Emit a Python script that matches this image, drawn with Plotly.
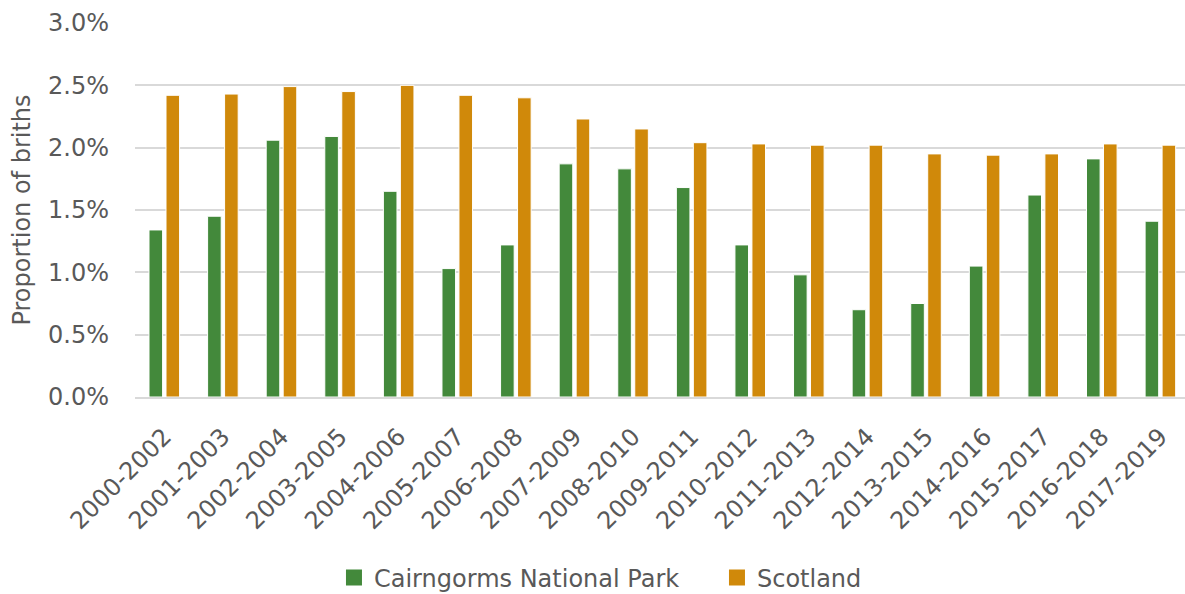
import plotly.graph_objects as go

periods = ["2000-2002", "2001-2003", "2002-2004", "2003-2005", "2004-2006", "2005-2007",
           "2006-2008", "2007-2009", "2008-2010", "2009-2011", "2010-2012", "2011-2013",
           "2012-2014", "2013-2015", "2014-2016", "2015-2017", "2016-2018", "2017-2019"]
cairngorms = [1.34, 1.45, 2.06, 2.09, 1.65, 1.03, 1.22, 1.87, 1.83, 1.68, 1.22, 0.98,
              0.70, 0.75, 1.05, 1.62, 1.91, 1.41]
scotland = [2.42, 2.43, 2.49, 2.45, 2.50, 2.42, 2.40, 2.23, 2.15, 2.04, 2.03, 2.02,
            2.02, 1.95, 1.94, 1.95, 2.03, 2.02]

series_names = ["Cairngorms National Park", "Scotland"]
colors = ["#43893B", "#D0890A"]

cn = [v / 100 for v in cairngorms]
sc = [v / 100 for v in scotland]

fig = go.Figure()
for name, vals, col in zip(series_names, [cn, sc], colors):
    fig.add_trace(go.Bar(x=periods, y=vals, name=name, showlegend=False,
                         marker=dict(color=col, line=dict(color="white", width=1))))
# legend entries with larger square swatches
for name, col in zip(series_names, colors):
    fig.add_trace(go.Scatter(x=[None], y=[None], mode="markers", name=name,
                             marker=dict(symbol="square", size=16, color=col)))

font_color = "#595959"
fam = "DejaVu Sans, Noto Sans, sans-serif"
fs = 24
fig.update_layout(
    width=1185, height=594,
    margin=dict(l=135, r=0, t=23, b=197),
    paper_bgcolor="white", plot_bgcolor="white",
    font=dict(family=fam, size=fs, color=font_color),
    barmode="group", bargap=0.42, bargroupgap=0.2,
    showlegend=True,
    legend=dict(orientation="h", xref="paper", x=0.1895, xanchor="left",
                yref="container", y=0.027, yanchor="middle",
                font=dict(size=fs, color=font_color), itemwidth=30,
                entrywidth=338, traceorder="normal", itemsizing="trace"),
    yaxis=dict(range=[0, 0.03], dtick=0.005, tickformat=".1%",
               showgrid=True, gridcolor="#D9D9D9", gridwidth=2,
               zeroline=False, showline=False,
               ticks="", ticklabelstandoff=25,
               title=dict(text="Proportion of briths", font=dict(size=fs, color=font_color), standoff=10),
               tickfont=dict(size=fs, color=font_color)),
    xaxis=dict(tickangle=-45, showgrid=False, showline=True, linecolor="#D9D9D9", linewidth=2,
               range=[-0.5, 17.42], ticks="", ticklabelstandoff=14,
               tickfont=dict(size=fs, color=font_color)),
)

fig.write_html("out.html")
